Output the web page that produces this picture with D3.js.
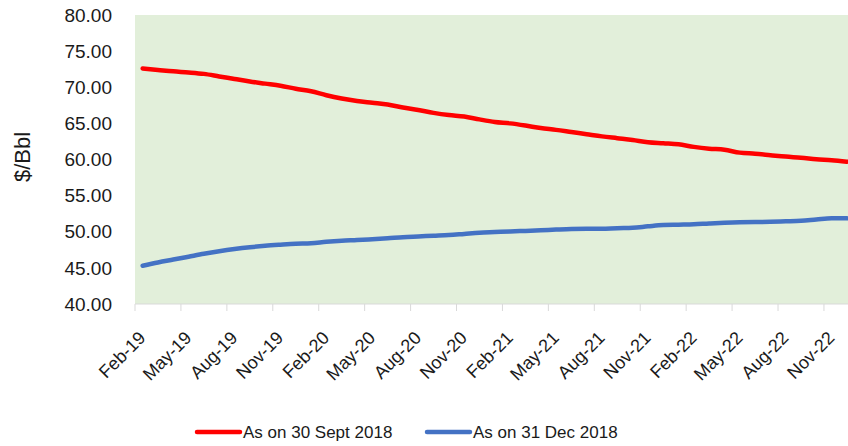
<!DOCTYPE html>
<head>
    <script src="https://d3js.org/d3.v7.min.js"></script>
    <style>
        body { margin: 0; background: #fff; }
        text { font-family: "Liberation Sans", Arial, sans-serif; fill: #1a1a1a; }
    </style>
</head>

<body>
    <div id="chart"></div>
</body>

<script>

    const width = 848,
        height = 446;

    // monthly categories
    const months = ["Feb-19","Mar-19","Apr-19","May-19","Jun-19","Jul-19","Aug-19","Sep-19","Oct-19","Nov-19","Dec-19",
        "Jan-20","Feb-20","Mar-20","Apr-20","May-20","Jun-20","Jul-20","Aug-20","Sep-20","Oct-20","Nov-20","Dec-20",
        "Jan-21","Feb-21","Mar-21","Apr-21","May-21","Jun-21","Jul-21","Aug-21","Sep-21","Oct-21","Nov-21","Dec-21",
        "Jan-22","Feb-22","Mar-22","Apr-22","May-22","Jun-22","Jul-22","Aug-22","Sep-22","Oct-22","Nov-22","Dec-22"];

    const sept2018 = [72.6,72.4,72.2,72.05,71.85,71.5,71.15,70.8,70.5,70.2,69.8,
        69.45,68.9,68.45,68.1,67.85,67.6,67.2,66.85,66.45,66.15,65.95,65.55,
        65.2,65.0,64.7,64.35,64.1,63.8,63.5,63.2,62.95,62.7,62.4,62.25,
        62.1,61.75,61.5,61.35,60.95,60.8,60.6,60.4,60.25,60.05,59.9,59.7];

    const dec2018 = [45.3,45.75,46.15,46.55,46.95,47.3,47.6,47.85,48.05,48.2,48.33,
        48.4,48.6,48.75,48.85,48.97,49.1,49.25,49.35,49.45,49.55,49.7,49.85,
        49.95,50.05,50.12,50.2,50.3,50.38,50.4,50.42,50.5,50.55,50.75,50.93,
        50.98,51.03,51.15,51.25,51.32,51.35,51.38,51.45,51.53,51.7,51.86,51.86];

    const seriesNames = ["As on 30 Sept 2018", "As on 31 Dec 2018"];
    const seriesColors = ["#ff0000", "#4472c4"];
    const yTicks = [40,45,50,55,60,65,70,75,80];

    const plot = {left: 135, right: 135 + 47*15.31, top: 15, bottom: 304};

    const svg = d3.select("#chart").append("svg")
        .attr("width", width)
        .attr("height", height);

    const x = d3.scaleBand()
        .domain(months)
        .range([plot.left, plot.right])
        .paddingInner(0).paddingOuter(0);

    const y = d3.scaleLinear()
        .domain([40, 80])
        .range([plot.bottom, plot.top]);

    // plot area background
    svg.append("rect")
        .attr("x", plot.left).attr("y", plot.top)
        .attr("width", plot.right - plot.left)
        .attr("height", plot.bottom - plot.top)
        .attr("fill", "#e2efda");

    // y axis labels
    svg.selectAll("text.ytick").data(yTicks)
        .enter().append("text")
        .attr("class","ytick")
        .attr("x", 112)
        .attr("y", d => y(d))
        .attr("dy", "0.35em")
        .attr("text-anchor","end")
        .style("font-size","19px")
        .text(d => d3.format(".2f")(d));

    svg.append("text")
        .attr("transform", "translate(30,157) rotate(-90)")
        .attr("text-anchor","middle")
        .style("font-size","22px")
        .text("$/Bbl");

    // x axis line and ticks
    svg.append("line")
        .attr("x1", plot.left).attr("x2", plot.right)
        .attr("y1", plot.bottom).attr("y2", plot.bottom)
        .attr("stroke", "#d9d9d9").attr("stroke-width", 1);

    const shown = months.filter((d,i) => i % 3 === 0);

    svg.selectAll("line.xtick").data(shown)
        .enter().append("line")
        .attr("class","xtick")
        .attr("x1", d => x(d)).attr("x2", d => x(d))
        .attr("y1", plot.bottom).attr("y2", plot.bottom + 7)
        .attr("stroke", "#d9d9d9").attr("stroke-width", 1);

    svg.selectAll("text.xlab").data(shown)
        .enter().append("text")
        .attr("class","xlab")
        .attr("text-anchor","end")
        .attr("transform", d => `translate(${x(d) + x.bandwidth()/2 + 4},${plot.bottom + 35}) rotate(-45)`)
        .style("font-size","18px")
        .text(d => d);

    // lines
    const line = d3.line()
        .x((d,i) => x(months[i]) + x.bandwidth()/2)
        .y(d => y(d))
        .curve(d3.curveMonotoneX);

    [sept2018, dec2018].forEach((s,k) => {
        svg.append("path")
            .datum(s)
            .attr("d", line)
            .attr("fill","none")
            .attr("stroke", seriesColors[k])
            .attr("stroke-width", 4.5)
            .attr("stroke-linecap","round")
            .attr("stroke-linejoin","round");
    });

    // legend
    const legendX = [197, 427];
    seriesNames.forEach((name,k) => {
        const g = svg.append("g").attr("transform", `translate(${legendX[k]},432)`);
        g.append("line")
            .attr("x1",0).attr("x2",43)
            .attr("y1",0).attr("y2",0)
            .attr("stroke", seriesColors[k])
            .attr("stroke-width", 4.5)
            .attr("stroke-linecap","round");
        g.append("text")
            .attr("x", 46).attr("y", 0)
            .attr("dy","0.35em")
            .style("font-size","17px")
            .text(name);
    });

</script>
